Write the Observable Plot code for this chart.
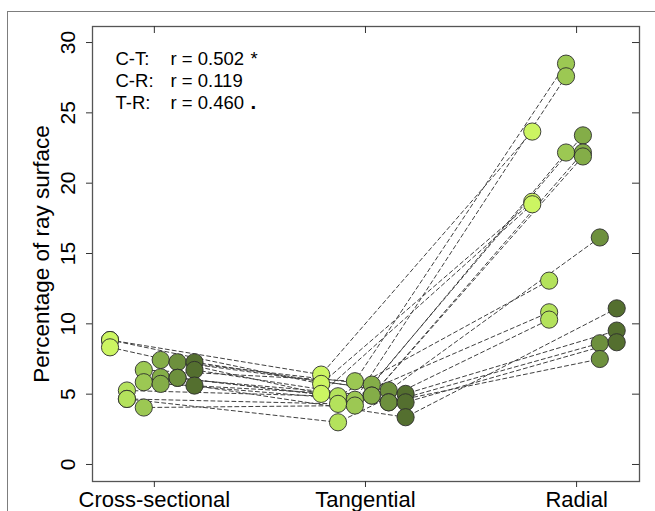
<!DOCTYPE html>
<html>
<head>
<meta charset="utf-8">
<script src="https://cdn.jsdelivr.net/npm/d3@7"></script>
<script src="https://cdn.jsdelivr.net/npm/@observablehq/plot@0.6"></script>
<style>
  html, body { margin: 0; padding: 0; background: #fff; }
  #wrap { position: relative; width: 655px; height: 511px; overflow: hidden; }
  #border { position: absolute; left: 7px; top: 11px; width: 700px; height: 600px; border: 1.5px solid #7d7d7d; box-sizing: border-box; }
  #chart { position: absolute; left: 0; top: 0; }
</style>
</head>
<body>
<div id="wrap"><div id="border"></div><div id="chart"></div></div>
<script>
// ---- data ----
const categories = ["Cross-sectional", "Tangential", "Radial"];
const colorGroup = [1,1,1, 2,2,2, 3,3,3, 4,4,4, 5,5,5, 6,6,6];
const crossSectional = [8.85, 8.85, 8.33, 5.26, 4.66, 4.66, 6.72, 5.85, 4.05, 7.43, 6.2, 5.73, 7.27, 6.16, 6.16, 7.27, 6.72, 5.61];
const tangential     = [6.39, 5.73, 5.02, 4.85, 4.31, 3.0, 5.92, 4.6, 4.19, 5.68, 4.9, 4.9, 5.26, 4.42, 4.42, 5.02, 4.42, 3.36];
const radial         = [23.67, 18.68, 18.5, 13.07, 10.82, 10.3, 28.5, 27.6, 22.18, 23.4, 22.18, 21.9, 16.14, 8.62, 7.5, 9.52, 8.69, 11.1];
const groupOffsets = [-0.21, -0.13, -0.05, 0.03, 0.11, 0.19];
const groupColors = ["#ccf562", "#b4e25c", "#9cc853", "#84ad48", "#6d903d", "#546f2f"];
const yTicks = [0, 5, 10, 15, 20, 25, 30];
const corrPairs = ["C-T:", "C-R:", "T-R:"];
const corrValues = ["0.502", "0.119", "0.460"];
const corrStar = ["*", "", ""];
const corrDot = ["", "", "."];

// ---- build long table ----
const panels = [crossSectional, tangential, radial];
const rows = [];
panels.forEach((vals, k) => {
  vals.forEach((v, i) => {
    const g = colorGroup[i];
    rows.push({specimen: i, panel: k, x: k + 1 + groupOffsets[g - 1], y: v, color: groupColors[g - 1]});
  });
});
const lineRows = rows.slice().sort((a, b) => a.specimen - b.specimen || a.panel - b.panel);

const W = 655, H = 511;
const mL = 92, mR = 16, mT = 26, mB = 30;
const pw = W - mL - mR, ph = H - mT - mB;
const font = "'Liberation Sans', Arial, Helvetica, sans-serif";
const annoFs = 18.5, annoLH = 22 / 18.5;

const chart = Plot.plot({
  width: W, height: H,
  marginLeft: mL, marginRight: mR, marginTop: mT, marginBottom: mB,
  style: {fontFamily: font, background: "transparent", color: "#000", overflow: "visible"},
  x: {domain: [0.707, 3.298]},
  y: {domain: [-1.21, 31.14]},
  marks: [
    Plot.line(lineRows, {x: "x", y: "y", z: "specimen", stroke: "#404040", strokeWidth: 1, strokeDasharray: "4,3"}),
    Plot.dot(rows, {x: "x", y: "y", r: 8.6, fill: "color", stroke: "#2e2e2e", strokeWidth: 0.9}),
    Plot.frame({stroke: "#555", strokeWidth: 1.3}),
    // left axis: ticks outward
    Plot.axisY(yTicks, {tickSize: 6, tickFormat: () => "", label: null, stroke: "#333"}),
    Plot.text(yTicks, {y: d => d, text: d => String(d), frameAnchor: "left", dx: -18, rotate: -90,
      textAnchor: "middle", lineAnchor: "bottom", fontSize: 21}),
    Plot.text(["Percentage of ray surface"], {frameAnchor: "left", dx: -44, rotate: -90,
      textAnchor: "middle", lineAnchor: "bottom", fontSize: 22.5}),
    // right inward ticks
    Plot.tickY(yTicks, {y: d => d, insetLeft: pw - 7, stroke: "#333"}),
    // bottom axis
    Plot.axisX([1, 2, 3], {tickSize: 6, tickPadding: 4, tickFormat: d => categories[d - 1], fontSize: 22, label: null, stroke: "#333"}),
    // top inward ticks
    Plot.tickX([1, 2, 3], {x: d => d, insetBottom: ph - 7, stroke: "#333"}),
    // correlation annotation
    Plot.text([corrPairs.join("\n")], {frameAnchor: "top-left", dx: 23, dy: 23,
      textAnchor: "start", lineAnchor: "top", fontSize: annoFs, lineHeight: annoLH}),
    Plot.text([corrValues.map(v => "r = " + v).join("\n")], {frameAnchor: "top-left", dx: 78, dy: 23,
      textAnchor: "start", lineAnchor: "top", fontSize: annoFs, lineHeight: annoLH}),
    Plot.text([corrStar.join("\n")], {frameAnchor: "top-left", dx: 158, dy: 23,
      textAnchor: "start", lineAnchor: "top", fontSize: annoFs, lineHeight: annoLH}),
    Plot.text([corrDot.join("\n")], {frameAnchor: "top-left", dx: 158, dy: 23,
      textAnchor: "start", lineAnchor: "top", fontSize: annoFs + 2, lineHeight: annoLH * annoFs / (annoFs + 2), fontWeight: "bold"})
  ]
});
document.getElementById("chart").appendChild(chart);
</script>
</body>
</html>
